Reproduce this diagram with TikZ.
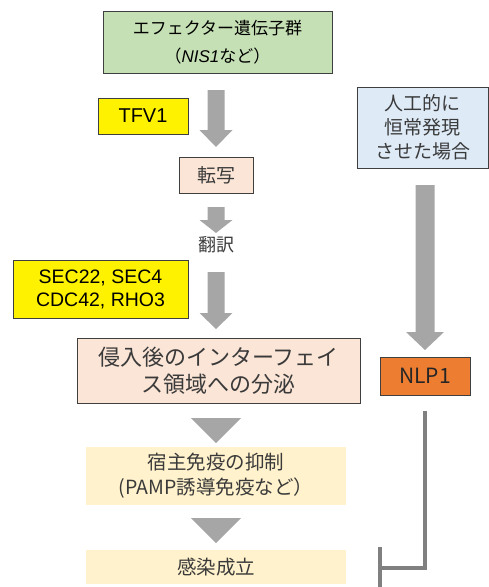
\documentclass[tikz,border=0pt]{standalone}
\usepackage{fontspec}
\setmainfont{Liberation Sans}
\newfontfamily\jp{Noto Sans CJK JP}
\definecolor{greenfill}{HTML}{C5E0B4}
\definecolor{pinkfill}{HTML}{FBE5D6}
\definecolor{bluefill}{HTML}{DEEBF7}
\definecolor{creamfill}{HTML}{FFF2CC}
\definecolor{orangefill}{HTML}{ED7D31}
\definecolor{arrowgray}{HTML}{A6A6A6}
\definecolor{inhgray}{HTML}{808080}
\definecolor{bordergray}{HTML}{3F3F3F}
\definecolor{txtgray}{HTML}{3A3A3A}
\newcommand\blockarrow[6]{% x, ytop, yneck, ybot, half shaft, half head
  \fill[arrowgray] (#1-#5,#2) -- (#1+#5,#2) -- (#1+#5,#3) -- (#1+#6,#3) -- (#1,#4) -- (#1-#6,#3) -- (#1-#5,#3) -- cycle;}
\newcommand\headonly[4]{% x, ytop, ybot, half width
  \fill[arrowgray] (#1-#4,#2) -- (#1+#4,#2) -- (#1,#3) -- cycle;}
\begin{document}
\begin{tikzpicture}[x=1pt,y=-1pt,
  boxed/.style={draw=bordergray,line width=0.9pt,inner sep=0pt,align=center,text=txtgray},
  plain/.style={inner sep=0pt,align=center,text=txtgray},
  jpfont/.style={font=\jp\fontsize{19}{24}\selectfont},
  inh/.style={draw=inhgray,line width=4pt}]
\useasboundingbox (0,0) rectangle (489,587);

\node[boxed,fill=greenfill,text=black,minimum width=229pt,minimum height=62pt,
  font=\jp\fontsize{17}{28}\selectfont] (g) at (217.5,42)
  {エフェクター遺伝子群\\（{\fontspec{Liberation Sans}\itshape NIS1}など）};
\node[boxed,fill=yellow,text=black,minimum width=90pt,minimum height=36pt,
  font=\fontsize{20}{24}\selectfont] (tfv) at (143,116) {TFV1};
\node[boxed,fill=pinkfill,minimum width=74pt,minimum height=36pt,jpfont] (tensha) at (216,175) {転写};
\node[plain,font=\jp\fontsize{18}{22}\selectfont] (honyaku) at (216,245) {翻訳};
\node[boxed,fill=yellow,text=black,minimum width=175pt,minimum height=58pt,
  font=\fontsize{19.5}{23}\selectfont] (sec) at (100.5,289) {SEC22, SEC4\\CDC42, RHO3};
\node[boxed,fill=pinkfill,minimum width=283pt,minimum height=65pt,
  font=\jp\fontsize{22}{27}\selectfont] (shinnyu) at (218.5,370.5)
  {侵入後のインターフェイ\\ス領域への分泌};
\node[boxed,fill=bluefill,minimum width=131pt,minimum height=81pt,jpfont] (blue) at (422.5,127.5)
  {人工的に\\恒常発現\\させた場合};
\node[boxed,fill=orangefill,text=black!85,minimum width=90pt,minimum height=38pt,
  font=\jp\fontsize{21}{24}\selectfont] (nlp) at (425,376) {NLP1};
\node[plain,fill=creamfill,minimum width=260pt,minimum height=58pt,
  font=\jp\fontsize{19.5}{25}\selectfont] (shuku) at (216,476)
  {宿主免疫の抑制\\(PAMP誘導免疫など）};
\node[plain,fill=creamfill,minimum width=260pt,minimum height=34pt,
  font=\jp\fontsize{19.5}{24}\selectfont] (kansen) at (216,567) {感染成立};

% block arrows
\blockarrow{216}{90}{130}{147}{8.5}{16.5}
\blockarrow{216}{207}{220}{233}{8.5}{16.5}
\blockarrow{216}{272}{313}{329}{8.5}{16.5}
\blockarrow{425}{185}{332}{350}{9.5}{19}
\headonly{216}{418}{443}{25}
\headonly{216}{518}{543}{25}

% inhibition
\coordinate (inhcorner) at (425,568);
\coordinate (inhend) at (380,568);
\draw[inh] (nlp.south) ++(0,16) -- (inhcorner) -- (inhend);
\draw[inh] (380,547) -- (380,590);
\end{tikzpicture}
\end{document}
